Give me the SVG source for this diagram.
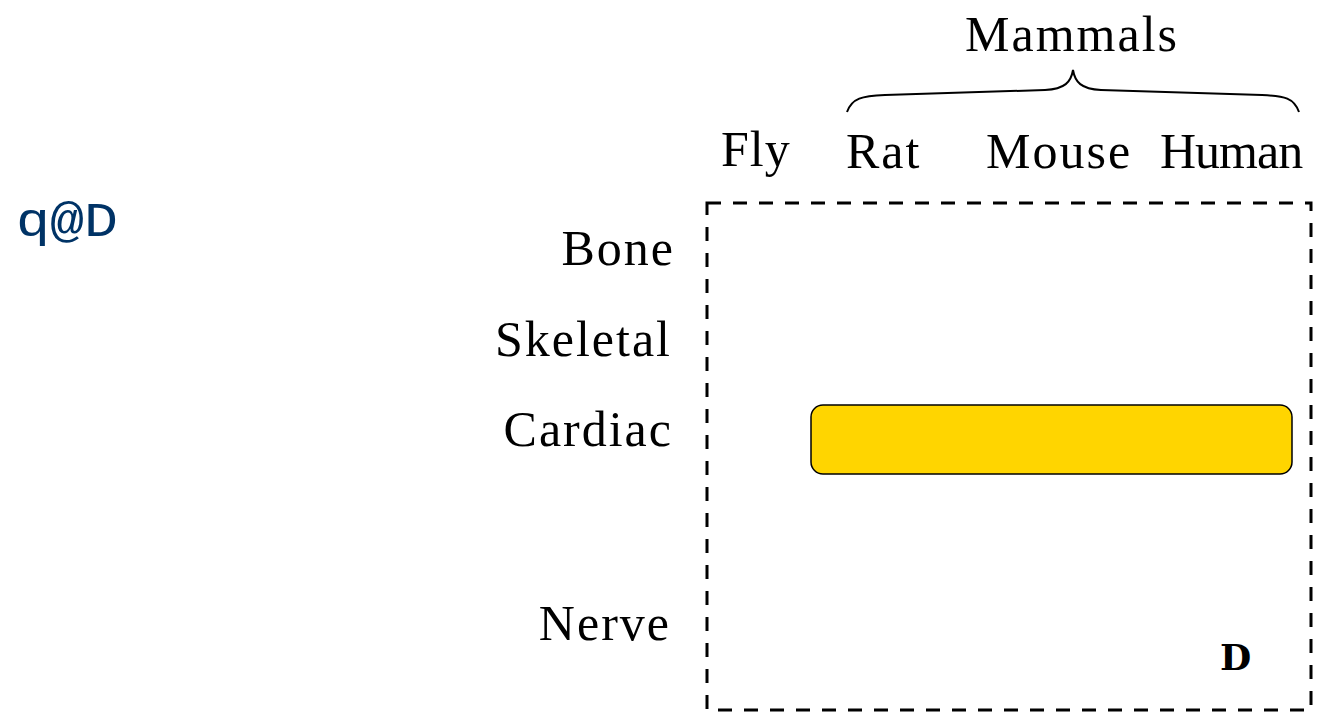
<svg xmlns="http://www.w3.org/2000/svg" width="1318" height="713" viewBox="0 0 1318 713">
  <style>
    .lbl { font-family: "Liberation Serif", "Times New Roman", serif; font-size: 50px; fill: #000; letter-spacing: 2px; }
    .row { text-anchor: end; }
    .frame { fill: none; stroke: #000; stroke-width: 3; stroke-dasharray: 14 12; }
    .bar { fill: #FFD500; stroke: #000; stroke-width: 1.5; }
    .brace { fill: none; stroke: #000; stroke-width: 2; }
  </style>

  <rect width="1318" height="713" fill="#fff"/>

  <g id="tag">
    <text transform="translate(16,236) scale(1.18,1)" x="0" y="0" font-family="'Liberation Mono', 'DejaVu Sans Mono', monospace" font-size="48" fill="#003366">q@D</text>
  </g>

  <g id="group-header">
    <text class="lbl" x="965" y="51">Mammals</text>
    <path class="brace" d="M847,112 C852,98 862,96 885,95 L1045,90 C1065,89 1071,82 1073,70 C1075,82 1081,89 1101,90 L1262,95 C1285,96 1294,98 1299,112"/>
  </g>

  <g id="columns">
    <text class="lbl" x="721" y="166" style="letter-spacing:1px">Fly</text>
    <text class="lbl" x="846" y="168">Rat</text>
    <text class="lbl" x="986" y="168">Mouse</text>
    <text class="lbl" x="1160" y="168" style="letter-spacing:-1px">Human</text>
  </g>

  <g id="rows">
    <text class="lbl row" x="675" y="265">Bone</text>
    <text class="lbl row" x="672" y="356">Skeletal</text>
    <text class="lbl row" x="673" y="446">Cardiac</text>
    <text class="lbl row" x="671" y="640">Nerve</text>
  </g>

  <g id="matrix">
    <rect class="frame" x="707" y="203" width="604" height="507"/>
  </g>

  <g id="cardiac-bar">
    <rect class="bar" x="811" y="405" width="481" height="69" rx="12" ry="12"/>
  </g>

  <g id="corner-mark">
    <text x="1220" y="670" font-family="'DejaVu Serif', 'Liberation Serif', serif" font-weight="bold" font-size="36" fill="#000">D</text>
  </g>
</svg>
